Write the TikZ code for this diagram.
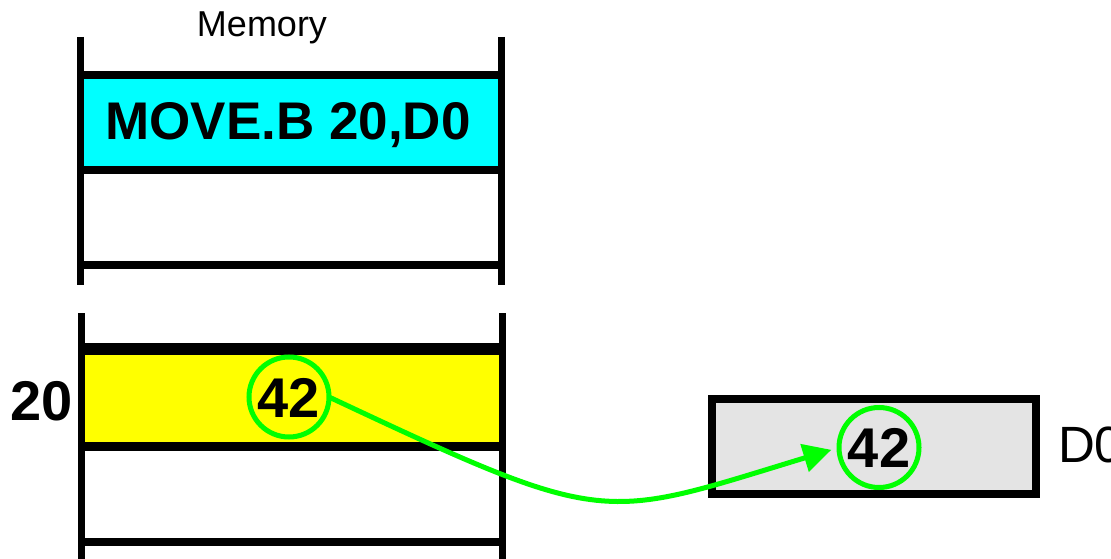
\documentclass[tikz,border=0pt]{standalone}
\usepackage{fontspec}
\setmainfont{Liberation Sans}
\usetikzlibrary{arrows.meta, positioning}
\definecolor{regfill}{HTML}{E4E4E4}
\definecolor{instrfill}{RGB}{0,255,255}
\definecolor{datafill}{RGB}{255,255,0}
\definecolor{movegreen}{RGB}{0,255,0}

\begin{document}
\begin{tikzpicture}[
    x=1pt, y=-1pt,
    every node/.style={inner sep=0pt, outer sep=0pt},
    cell/.style={minimum width=421pt, text depth=0pt},
    wall/.style={line width=7pt},
    rule/.style={line width=8pt},
    value/.style={circle, draw=movegreen, line width=5pt, minimum size=80pt, text height=40pt, text depth=0pt, font=\fontsize{56}{56}\selectfont\bfseries},
    arrow/.style={-{Triangle[length=28pt, width=28pt]}, line width=5pt, movegreen}
]
    \useasboundingbox (0,0) rectangle (1111,559);

    % Cells
    \node (instr) [cell, fill=instrfill, minimum height=95pt] at (290.5,122.5) {};
    \node (data) [cell, fill=datafill, minimum height=97pt] at (291.5,397.5) {};
    \node (reg) [draw, line width=8pt, fill=regfill, minimum width=324pt, minimum height=95pt] at (874,446.5) {};

    % Rules and walls
    \draw [rule] (instr.north west) -- (instr.north east);
    \draw [rule] (instr.south west) -- (instr.south east);
    \draw [rule] ([yshift=-95pt]instr.south west) -- ([yshift=-95pt]instr.south east);
    \draw [line width=12pt] (data.north west) -- (data.north east);
    \draw [rule, line width=9pt] (data.south west) -- (data.south east);
    \draw [rule] ([yshift=-96pt]data.south west) -- ([yshift=-96pt]data.south east);
    \draw [wall] (80,37) -- (80,285);
    \draw [wall] (501,37) -- (501,285);
    \draw [wall] (81,313) -- (81,565);
    \draw [wall] (502,313) -- (502,565);

    % Labels
    \node (memname) [anchor=base, font=\fontsize{36}{36}\selectfont] at (262,37) {Memory};
    \node (op) [anchor=base, font=\fontsize{53}{53}\selectfont\bfseries] at (288,140) {MOVE.B 20,D0};
    \node (addr) [anchor=base, font=\fontsize{56}{56}\selectfont\bfseries] at (42,420) {20};
    \node (regname) [anchor=base west, font=\fontsize{51}{51}\selectfont] at (1058,462) {D0};

    % Values
    \node (src) [value] at (289,397) {42};
    \node (dst) [value] at (879,447.5) {42};

    % Move
    \draw [arrow, shorten >=8pt] (src.east) .. controls (610,529) and (600,520) .. (dst.west);
\end{tikzpicture}
\end{document}
